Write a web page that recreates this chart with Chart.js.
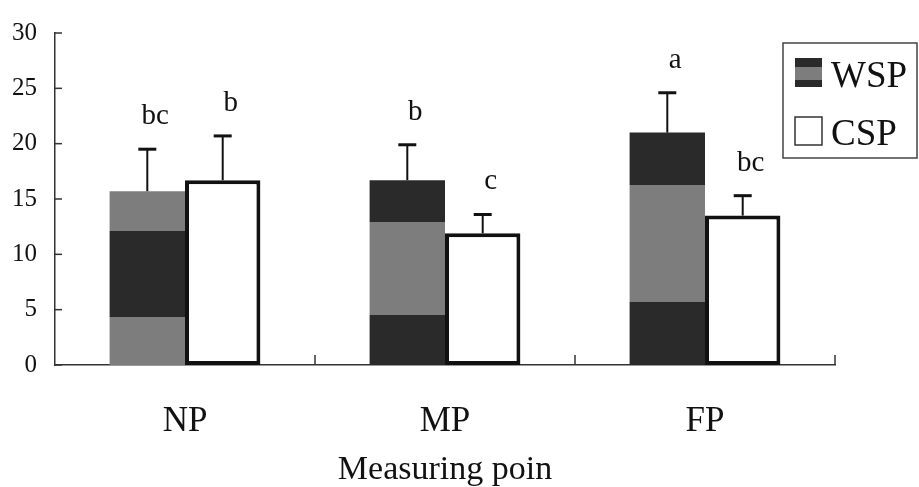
<!DOCTYPE html>
<html><head><meta charset="utf-8">
<script src="https://cdn.jsdelivr.net/npm/chart.js@4/dist/chart.umd.min.js"></script>
<style>html,body{margin:0;padding:0;background:#fff;}#wrap{width:919px;height:487px;}</style>
</head><body><div id="wrap"><canvas id="c" width="919" height="487"></canvas></div>
<script>
// ---- data ----
const categories = ['NP', 'MP', 'FP'];
const wspValues = [15.7, 16.7, 21.0];
const cspValues = [16.7, 11.9, 13.5];
const wspErrors = [3.8, 3.2, 3.6];
const cspErrors = [4.0, 1.7, 1.8];
const wspLetters = ['bc', 'b', 'a'];
const cspLetters = ['b', 'c', 'bc'];
const yTicks = [0, 5, 10, 15, 20, 25, 30];
const seriesNames = ['WSP', 'CSP'];

// ---- style ----
const DARK = '#2a2a2a', GREY = '#7d7d7d';
const FONT = "'Liberation Serif', 'Times New Roman', serif";
// scanned banding of the WSP bars (value units, style only)
const wspBands = [
  [[0, GREY], [4.3, DARK], [12.1, GREY]],
  [[0, DARK], [4.5, GREY], [12.9, DARK]],
  [[0, DARK], [5.7, GREY], [16.3, DARK]]
];

function wspFill(ctx) {
  const chart = ctx.chart;
  const y = chart.scales.y;
  if (!chart.chartArea || !y || ctx.dataIndex === undefined) return DARK;
  const bands = wspBands[ctx.dataIndex];
  const top = wspValues[ctx.dataIndex];
  const y0 = y.getPixelForValue(0), yt = y.getPixelForValue(top);
  const g = chart.ctx.createLinearGradient(0, y0, 0, yt);
  for (let i = 0; i < bands.length; i++) {
    const s = bands[i][0], e = i + 1 < bands.length ? bands[i + 1][0] : top;
    g.addColorStop(Math.min(1, s / top), bands[i][1]);
    g.addColorStop(Math.min(1, e / top) - (i + 1 < bands.length ? 0.0001 : 0), bands[i][1]);
  }
  return g;
}

const errors = [wspErrors, cspErrors];
const letters = [wspLetters, cspLetters];

const extras = {
  id: 'extras',
  afterDatasetsDraw(chart) {
    const c = chart.ctx, ya = chart.scales.y, area = chart.chartArea;
    c.save();
    // error bars + letters
    chart.data.datasets.forEach((ds, di) => {
      const meta = chart.getDatasetMeta(di);
      meta.data.forEach((bar, i) => {
        const v = ds.data[i];
        const yTop = ya.getPixelForValue(v);
        const yErr = ya.getPixelForValue(v + errors[di][i]);
        c.strokeStyle = '#111';
        c.lineWidth = 2;
        c.beginPath(); c.moveTo(bar.x, yTop); c.lineTo(bar.x, yErr); c.stroke();
        c.lineWidth = 3;
        c.beginPath(); c.moveTo(bar.x - 9, yErr); c.lineTo(bar.x + 9, yErr); c.stroke();
        c.fillStyle = '#111';
        c.font = '29px ' + FONT;
        c.textAlign = 'center';
        c.textBaseline = 'alphabetic';
        c.fillText(letters[di][i], bar.x + 8, yErr - 25);
      });
    });
    // inward ticks on y axis
    c.strokeStyle = '#333';
    c.lineWidth = 1.5;
    ya.ticks.forEach(t => {
      const py = ya.getPixelForValue(t.value);
      c.beginPath(); c.moveTo(area.left, py); c.lineTo(area.left + 7, py); c.stroke();
    });
    // inward ticks on x axis at category boundaries
    const n = categories.length, w = (area.right - area.left) / n;
    for (let i = 1; i <= n; i++) {
      const px = area.left + i * w;
      c.beginPath(); c.moveTo(px, area.bottom); c.lineTo(px, area.bottom - 10); c.stroke();
    }
    // legend
    const lx = 783, ly = 43, lw = 134, lh = 115;
    c.lineWidth = 1.5;
    c.strokeStyle = '#444';
    c.strokeRect(lx, ly, lw, lh);
    // WSP swatch
    const sx = 795, sw = 27;
    const g = c.createLinearGradient(0, 58, 0, 87);
    g.addColorStop(0, DARK); g.addColorStop(0.31, DARK); g.addColorStop(0.3101, GREY);
    g.addColorStop(0.76, GREY); g.addColorStop(0.7601, DARK); g.addColorStop(1, DARK);
    c.fillStyle = g;
    c.fillRect(sx, 58, sw, 29);
    // CSP swatch
    c.fillStyle = '#fff';
    c.fillRect(sx, 117, sw, 28);
    c.strokeStyle = '#333';
    c.lineWidth = 1.5;
    c.strokeRect(sx, 117, sw, 28);
    c.fillStyle = '#111';
    c.font = '37px ' + FONT;
    c.textAlign = 'left';
    c.textBaseline = 'alphabetic';
    c.fillText(seriesNames[0], 831, 87);
    c.fillText(seriesNames[1], 831, 145);
    c.restore();
  }
};

new Chart(document.getElementById('c'), {
  type: 'bar',
  data: {
    labels: categories,
    datasets: [
      { label: seriesNames[0], data: wspValues, backgroundColor: wspFill, borderWidth: 0,
        categoryPercentage: 0.58, barPercentage: 1.0 },
      { label: seriesNames[1], data: cspValues, backgroundColor: '#ffffff', borderColor: '#111',
        borderWidth: 4, borderSkipped: false, categoryPercentage: 0.58, barPercentage: 1.0 }
    ]
  },
  options: {
    responsive: false,
    animation: false,
    devicePixelRatio: 1,
    layout: { padding: { left: 13, top: 30, right: 84, bottom: 0 } },
    plugins: { legend: { display: false }, tooltip: { enabled: false } },
    scales: {
      x: {
        afterFit: s => { s.height = 122; },
        grid: { display: false, drawTicks: false },
        border: { display: true, color: '#333', width: 1.5 },
        ticks: { font: { family: FONT, size: 35 }, color: '#111', padding: 36 },
        title: { display: true, text: 'Measuring poin', color: '#111',
          font: { family: FONT, size: 34, lineHeight: 1 }, padding: { top: 11, bottom: 0 } }
      },
      y: {
        min: 0, max: 30,
        afterFit: s => { s.width = 42; },
        afterBuildTicks: s => { s.ticks = yTicks.map(v => ({ value: v })); },
        grid: { display: false, drawTicks: false },
        border: { display: true, color: '#333', width: 1.5 },
        ticks: { font: { family: FONT, size: 25 }, color: '#111', padding: 18 }
      }
    }
  },
  plugins: [extras]
});
</script>
</body></html>
